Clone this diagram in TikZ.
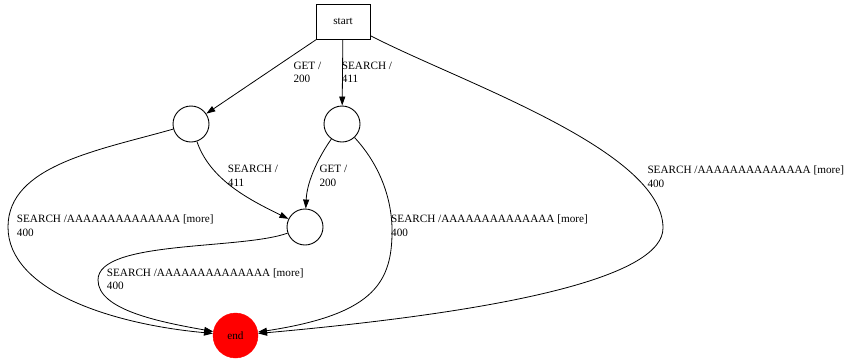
\documentclass[tikz,border=0pt]{standalone}
\usepackage{fontspec}
\setmainfont{Liberation Serif}
\usetikzlibrary{arrows.meta}
\begin{document}
\begin{tikzpicture}[x=1pt,y=-1pt,
  every node/.style={font=\fontsize{11.2}{13.4}\selectfont},
  state/.style={circle,draw,line width=0.9pt,minimum size=36pt,inner sep=0pt},
  startbox/.style={rectangle,draw,line width=0.9pt,minimum width=54pt,minimum height=35pt,inner sep=0pt},
  endstate/.style={circle,draw=red,fill=red,minimum size=45pt,inner sep=0pt},
  edge/.style={line width=0.8pt,-{Triangle[length=9pt,width=6pt]}},
  lbl/.style={anchor=north west,inner sep=0pt,align=left}]
\useasboundingbox (0,0) rectangle (846,362);
\node[startbox] (start) at (343,21.5) {start};
\node[state] (a) at (191,124) {};
\node[state] (b) at (342,124) {};
\node[state] (c) at (305,227) {};
\node[endstate] (end) at (235.5,335.5) {end};
\coordinate (p3) at (663,228);
\coordinate (p4) at (8,227);
\coordinate (p7) at (392,235);
\coordinate (p8) at (98,280);
% edges
\draw[edge] (start) -- (a);
\draw[edge] (start) -- (b);
\draw[edge] (start) .. controls (460,82) and (663,150) .. (p3)
  .. controls (663,275) and (520,310) .. (end);
\draw[edge] (a) .. controls (100,150) and (8,165) .. (p4)
  .. controls (8,290) and (110,324) .. (end);
\draw[edge] (a) .. controls (210,180) and (250,200) .. (c);
\draw[edge] (b) .. controls (320,155) and (307,180) .. (c);
\draw[edge] (b) .. controls (380,165) and (393,200) .. (p7)
  .. controls (391,285) and (370,315) .. (end);
\draw[edge] (c) .. controls (240,250) and (98,240) .. (p8)
  .. controls (98,310) and (160,322) .. (end);
% labels
\node[lbl] (l1) at (293.3,61.9) {GET /\\200};
\node[lbl] (l2) at (341.7,61.9) {SEARCH /\\411};
\node[lbl] (l3) at (647.3,165.7) {SEARCH /AAAAAAAAAAAAAA [more]\\400};
\node[lbl] (l4) at (16.7,214.9) {SEARCH /AAAAAAAAAAAAAA [more]\\400};
\node[lbl] (l5) at (227.7,165.1) {SEARCH /\\411};
\node[lbl] (l6) at (319.3,165.1) {GET /\\200};
\node[lbl] (l7) at (391,214.9) {SEARCH /AAAAAAAAAAAAAA [more]\\400};
\node[lbl] (l8) at (106.7,268.4) {SEARCH /AAAAAAAAAAAAAA [more]\\400};
\end{tikzpicture}
\end{document}
